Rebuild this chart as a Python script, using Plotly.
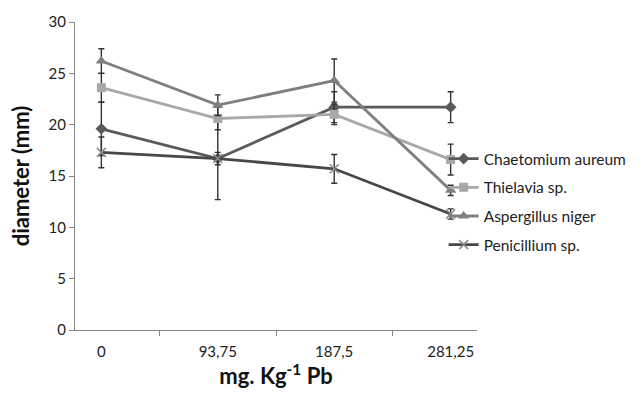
import plotly.graph_objects as go

# Pb concentration levels (x categories)
doses = ["0", "93,75", "187,5", "281,25"]

# Mean colony diameter (mm) and error (±) for each fungus
chaetomium = [19.6, 16.7, 21.7, 21.7]
chaetomium_err = [2.6, 4.0, 1.5, 1.5]
thielavia = [23.6, 20.6, 21.0, 16.6]
thielavia_err = [1.4, 1.1, 1.0, 1.5]
aspergillus = [26.2, 21.9, 24.3, 13.6]
aspergillus_err = [1.2, 1.0, 2.1, 0.5]
penicillium = [17.3, 16.7, 15.7, 11.3]
penicillium_err = [1.5, 0.6, 1.4, 0.5]

series = [
    ("Chaetomium aureum", chaetomium, chaetomium_err, "#5a5a5a", "diamond", 9),
    ("Thielavia sp.", thielavia, thielavia_err, "#a8a8a8", "square", 9),
    ("Aspergillus niger", aspergillus, aspergillus_err, "#7f7f7f", "triangle-up", 10),
    ("Penicillium sp.", penicillium, penicillium_err, "#474747", "x-thin", 9),
]

FONT = "Lato, Open Sans, sans-serif"

fig = go.Figure()
for i, (name, vals, err, color, sym, size) in enumerate(series):
    marker = dict(symbol=sym, size=size, color=color)
    if sym == "x-thin":
        marker["line"] = dict(color="#8a8a8a", width=1.5)
    fig.add_trace(go.Scatter(
        x=doses, y=vals, name=name, mode="lines+markers",
        line=dict(color=color, width=2.8),
        marker=marker,
        legendgroup=f"g{i}",
        error_y=dict(type="data", array=err, visible=True,
                     color="#333333", thickness=1.4, width=3),
    ))

tick_font = dict(family=FONT, size=15, color="#222222")
title_font = dict(family=FONT, size=22, color="#111111")

fig.update_layout(
    width=644, height=393,
    margin=dict(l=75, r=152, t=20, b=63),
    paper_bgcolor="white", plot_bgcolor="white",
    font=tick_font,
    showlegend=True,
    legend=dict(x=0.917, xanchor="left", y=0.61, yanchor="top",
                font=dict(family=FONT, size=15.5, color="#222222"),
                bgcolor="rgba(0,0,0,0)", itemwidth=30,
                traceorder="grouped", tracegroupgap=5.5),
    xaxis=dict(type="category", tickson="boundaries", ticks="outside",
               ticklen=5, tickcolor="#868686", showline=True, linecolor="#868686",
               linewidth=1, showgrid=False, zeroline=False,
               tickfont=tick_font, ticklabelstandoff=8,
               title=dict(text="<b>mg. Kg<sup>-1</sup> Pb</b>",
                          font=title_font, standoff=6)),
    yaxis=dict(range=[0, 30], dtick=5, ticks="outside", ticklen=5,
               tickcolor="#868686", showline=True, linecolor="#868686",
               linewidth=1, showgrid=False, zeroline=False,
               tickfont=tick_font,
               title=dict(text="<b>diameter (mm)</b>",
                          font=title_font, standoff=12)),
)

fig.write_html("out.html")
